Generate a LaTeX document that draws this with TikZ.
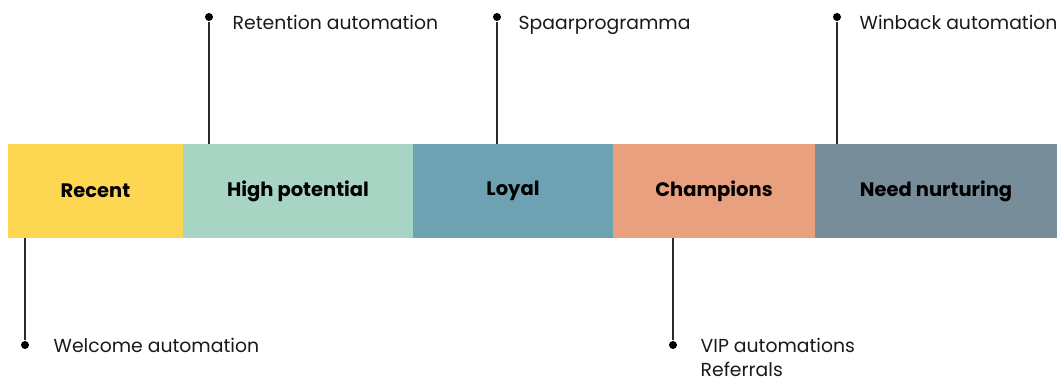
\documentclass[tikz,border=0pt]{standalone}
\usepackage{fontspec}
\setmainfont{Poppins}
\usetikzlibrary{positioning, calc}

\definecolor{recentcol}{HTML}{FDD652}
\definecolor{hipotcol}{HTML}{A8D5C3}
\definecolor{loyalcol}{HTML}{6DA2B3}
\definecolor{champcol}{HTML}{E9A07F}
\definecolor{nurturecol}{HTML}{778D99}
\definecolor{stemcol}{HTML}{2B2B2B}

\begin{document}
\begin{tikzpicture}
        \tikzset{
            segment/.style={minimum height=0.94cm, inner sep=0pt, outer sep=0pt,
                font=\fontsize{5.55}{6.5}\selectfont\bfseries},
            pin/.style={circle, fill=black, inner sep=0pt, minimum size=0.08cm},
            stem/.style={line width=0.65pt, stemcol},
            action/.style={inner sep=0pt, anchor=base west, font=\fontsize{5.35}{6.3}\selectfont, text=black!90}
        }
        \useasboundingbox (0,0) rectangle (10.62,3.79);

        % Segment bar
        \node[segment, fill=recentcol, minimum width=1.75cm] (recent) at (0.955,1.88) {Recent};
        \node[segment, fill=hipotcol, minimum width=2.30cm, right=0pt of recent] (hipot) {High potential};
        \node[segment, fill=loyalcol, minimum width=2.00cm, right=0pt of hipot] (loyal) {Loyal};
        \node[segment, fill=champcol, minimum width=2.02cm, right=0pt of loyal] (champ) {Champions};
        \node[segment, fill=nurturecol, minimum width=2.42cm, right=0pt of champ] (nurture) {Need nurturing};

        % Pins above the bar
        \node[pin] (retpin) at (2.09,3.62) {};
        \node[pin] (spaarpin) at (4.97,3.62) {};
        \node[pin] (winpin) at (8.37,3.62) {};

        % Pins below the bar
        \node[pin] (welpin) at (0.25,0.34) {};
        \node[pin] (vippin) at (6.73,0.34) {};

        % Stems
        \draw[stem] (retpin) -- (retpin |- hipot.north);
        \draw[stem] (spaarpin) -- (spaarpin |- loyal.north);
        \draw[stem] (winpin) -- (winpin |- nurture.north);
        \draw[stem] (welpin) -- (welpin |- recent.south);
        \draw[stem] (vippin) -- (vippin |- champ.south);

        % Actions
        \node[action] (ret) at ($(retpin)+(0.23,-0.13)$) {Retention automation};
        \node[action] (spaar) at ($(spaarpin)+(0.21,-0.13)$) {Spaarprogramma};
        \node[action] (win) at ($(winpin)+(0.22,-0.13)$) {Winback automation};
        \node[action] (wel) at ($(welpin)+(0.28,-0.08)$) {Welcome automation};
        \node[action] (vip) at ($(vippin)+(0.27,-0.08)$) {VIP automations};
        \node[action] (ref) at ($(vip.base west)+(0,-0.235)$) {Referrals};
    \end{tikzpicture}
\end{document}
